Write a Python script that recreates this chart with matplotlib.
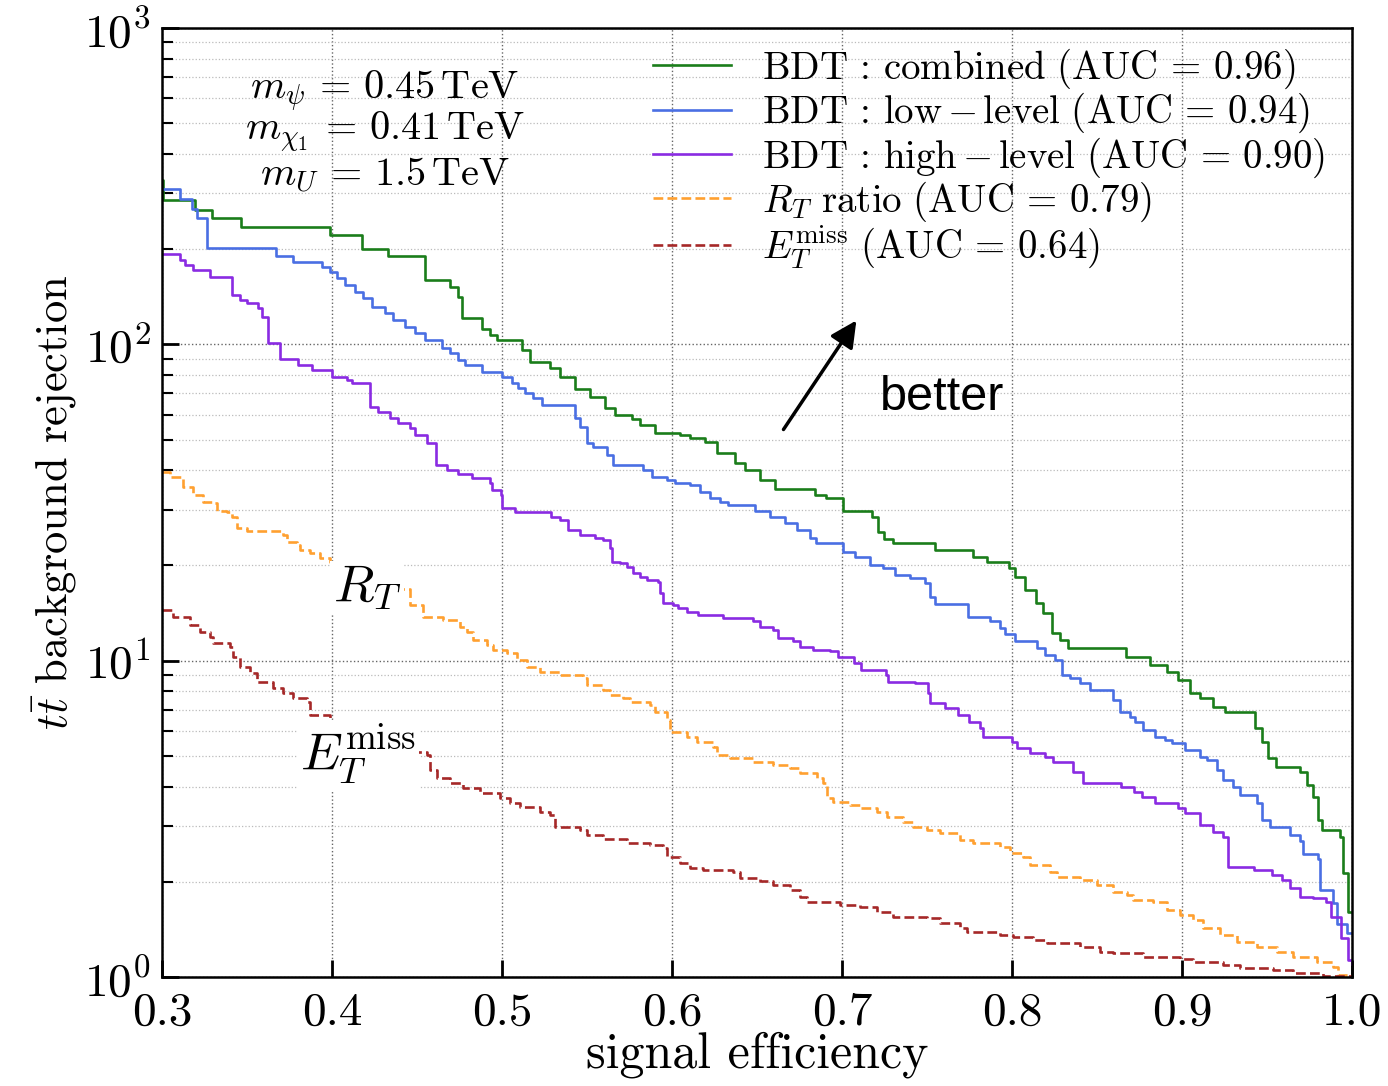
import numpy as np
import matplotlib
matplotlib.use('Agg')
import matplotlib.pyplot as plt

# ROC-style curves (signal efficiency, background rejection)
eff_comb = [0.300, 0.3005, 0.3194, 0.3294, 0.3465, 0.3988, 0.4176, 0.4329, 0.4547, 0.4694,
            0.4741, 0.4765, 0.4882, 0.4929, 0.4971, 0.5118, 0.5165, 0.5282, 0.5341, 0.5429,
            0.5518, 0.5606, 0.5665, 0.5765, 0.5812, 0.5900, 0.6047, 0.6106, 0.6194, 0.6265,
            0.6371, 0.6429, 0.6518, 0.6606, 0.6841, 0.6906, 0.7006, 0.7176, 0.7212, 0.7247,
            0.7300, 0.7547, 0.7771, 0.7853, 0.7982, 0.8018, 0.8076, 0.8141, 0.8182, 0.8235,
            0.8282, 0.8329, 0.8671, 0.8812, 0.8912, 0.8976, 0.9047, 0.9106, 0.9182, 0.9253,
            0.9429, 0.9471, 0.9506, 0.9553, 0.9694, 0.9735, 0.9771, 0.9800, 0.9824, 0.9929,
            0.9947, 0.9976, 1.0]
rej_comb = [331, 286, 266, 251, 235, 222, 200, 190, 160, 152,
            141, 121, 112, 107, 103, 96, 88, 84, 79, 72,
            68, 63, 60, 58, 55.6, 52.4, 51.5, 50.5, 49.0, 45.2,
            42.3, 40.0, 37.2, 34.8, 33.5, 32.6, 29.8, 28.5, 25.5, 24.2,
            23.6, 22.4, 21.3, 20.5, 19.6, 18.4, 16.7, 15.2, 14.1, 12.2,
            11.6, 10.96, 10.3, 9.72, 9.23, 8.70, 7.92, 7.64, 7.14, 6.88,
            6.13, 5.53, 4.93, 4.60, 4.45, 4.05, 3.71, 3.14, 2.92, 2.77,
            2.13, 1.60, 1.60]

eff_low = [0.300, 0.3106, 0.3176, 0.3206, 0.3265, 0.3671, 0.3771, 0.3941, 0.3988, 0.4029,
           0.4076, 0.4135, 0.4182, 0.4235, 0.4312, 0.4359, 0.4429, 0.4488, 0.4547, 0.4647,
           0.4694, 0.4741, 0.4782, 0.4882, 0.5000, 0.5059, 0.5094, 0.5135, 0.5182, 0.5235,
           0.5429, 0.5459, 0.5500, 0.5535, 0.5618, 0.5653, 0.5829, 0.5882, 0.5971, 0.6018,
           0.6106, 0.6165, 0.6224, 0.6282, 0.6329, 0.6488, 0.6576, 0.6665, 0.6735, 0.6812,
           0.6847, 0.7006, 0.7076, 0.7165, 0.7241, 0.7312, 0.7400, 0.7488, 0.7518, 0.7547,
           0.7741, 0.7871, 0.7929, 0.7959, 0.8018, 0.8147, 0.8194, 0.8253, 0.8294, 0.8341,
           0.8400, 0.8459, 0.8594, 0.8635, 0.8694, 0.8724, 0.8771, 0.8841, 0.8900, 0.8941,
           0.9018, 0.9106, 0.9147, 0.9206, 0.9241, 0.9300, 0.9341, 0.9441, 0.9471, 0.9518,
           0.9635, 0.9694, 0.9712, 0.9800, 0.9812, 0.9888, 0.9912, 0.9971, 1.0]
rej_low = [310, 288, 268, 251, 202, 190, 182, 176, 169, 162,
           154, 146.5, 140, 131, 126, 119, 113.5, 108.7, 103.3, 97.4,
           93.9, 89.3, 86.1, 81.8, 78.9, 75.5, 72.8, 70.2, 67.7, 64.3,
           58.5, 54.8, 48.8, 47.4, 44.7, 41.6, 40.0, 38.1, 37.2, 36.5,
           35.9, 34.1, 32.6, 31.8, 31.1, 29.8, 28.5, 27.2, 25.9, 24.4,
           23.6, 22.1, 21.3, 20.1, 19.6, 18.7, 18.3, 17.6, 15.9, 15.1,
           13.7, 13.3, 12.7, 12.1, 11.5, 10.96, 10.4, 10.05, 9.0, 8.82,
           8.5, 8.08, 7.51, 6.88, 6.64, 6.40, 6.04, 5.74, 5.61, 5.50,
           5.22, 4.96, 4.85, 4.51, 4.20, 3.99, 3.76, 3.55, 3.14, 2.98,
           2.81, 2.70, 2.45, 2.36, 1.88, 1.71, 1.47, 1.38, 1.38]

eff_high = [0.300, 0.3106, 0.3135, 0.3182, 0.3282, 0.3412, 0.3459, 0.3500, 0.3565, 0.3588,
            0.3624, 0.3694, 0.3800, 0.3882, 0.4000, 0.4088, 0.4118, 0.4224, 0.4271, 0.4341,
            0.4388, 0.4459, 0.4488, 0.4560, 0.4612, 0.4676, 0.4741, 0.4824, 0.4929, 0.4941,
            0.4994, 0.5000, 0.5076, 0.5288, 0.5341, 0.5388, 0.5459, 0.5547, 0.5594, 0.5635,
            0.5647, 0.5694, 0.5735, 0.5771, 0.5812, 0.5853, 0.5918, 0.5929, 0.5947, 0.6006,
            0.6035, 0.6088, 0.6153, 0.6300, 0.6476, 0.6518, 0.6594, 0.6624, 0.6712, 0.6753,
            0.6829, 0.6929, 0.6976, 0.7071, 0.7112, 0.7259, 0.7271, 0.7429, 0.7506, 0.7518,
            0.7606, 0.7682, 0.7747, 0.7812, 0.7829, 0.8000, 0.8029, 0.8106, 0.8194, 0.8241,
            0.8359, 0.8418, 0.8641, 0.8718, 0.8765, 0.8841, 0.8976, 0.9018, 0.9106, 0.9182,
            0.9241, 0.9271, 0.9424, 0.9529, 0.9588, 0.9635, 0.9694, 0.9771, 0.9847, 0.9876,
            0.9935, 0.9976, 1.0]
rej_high = [193, 185, 178, 172, 163, 143, 138, 135, 130, 122,
            101, 90, 86.1, 83, 79, 77.2, 75.5, 63.4, 61.1, 58.5,
            56.4, 54.4, 51.7, 48.8, 41.6, 40.0, 38.9, 37.8, 36.5, 34.7,
            33.4, 30.3, 29.5, 28.5, 27.9, 25.9, 25.0, 24.4, 24.1, 22.7,
            20.5, 20.4, 19.8, 18.9, 18.4, 18.0, 17.7, 16.4, 15.2, 15.0,
            14.7, 14.3, 13.9, 13.6, 13.3, 12.8, 12.5, 11.8, 11.5, 11.05,
            10.8, 10.7, 10.3, 9.84, 9.35, 9.0, 8.57, 8.5, 7.92, 7.35,
            7.08, 6.73, 6.40, 6.13, 5.74, 5.53, 5.30, 5.10, 4.96, 4.78,
            4.45, 4.11, 3.99, 3.85, 3.71, 3.55, 3.42, 3.30, 3.02, 2.87,
            2.77, 2.23, 2.18, 2.10, 2.03, 1.91, 1.79, 1.78, 1.73, 1.55,
            1.33, 1.13, 1.10]

eff_rt = [0.300, 0.3047, 0.3124, 0.3182, 0.3241, 0.3300, 0.3324, 0.3382, 0.3412, 0.3441,
          0.3500, 0.3712, 0.3735, 0.3794, 0.3812, 0.3871, 0.3929, 0.3988, 0.4006, 0.4120,
          0.4230, 0.4340, 0.4459, 0.4535, 0.4653, 0.4753, 0.4794, 0.4829, 0.4912, 0.4947,
          0.5029, 0.5088, 0.5147, 0.5224, 0.5341, 0.5476, 0.5500, 0.5594, 0.5635, 0.5712,
          0.5753, 0.5871, 0.5900, 0.5971, 0.5988, 0.6088, 0.6147, 0.6241, 0.6265, 0.6341,
          0.6476, 0.6594, 0.6694, 0.6753, 0.6853, 0.6888, 0.6912, 0.6947, 0.7047, 0.7106,
          0.7206, 0.7265, 0.7359, 0.7418, 0.7500, 0.7576, 0.7694, 0.7771, 0.7929, 0.7988,
          0.8065, 0.8106, 0.8224, 0.8265, 0.8400, 0.8500, 0.8594, 0.8676, 0.8712, 0.8829,
          0.8912, 0.8988, 0.9065, 0.9124, 0.9224, 0.9324, 0.9441, 0.9559, 0.9653, 0.9794,
          0.9888, 0.9918, 1.0]
rej_rt = [39.5, 38.1, 35.4, 33.4, 31.8, 31.5, 29.8, 29.5, 28.5, 26.3,
          25.7, 25.0, 23.7, 23.2, 22.4, 21.9, 21.1, 20.5, 19.6, 18.5,
          17.6, 16.8, 15.0, 13.7, 13.45, 12.8, 12.3, 11.6, 11.2, 10.8,
          10.6, 10.05, 9.55, 9.23, 9.0, 8.82, 8.38, 8.08, 7.79, 7.64,
          7.40, 7.24, 6.88, 6.49, 5.95, 5.74, 5.53, 5.34, 5.03, 4.92,
          4.78, 4.68, 4.58, 4.42, 4.26, 4.11, 3.68, 3.57, 3.50, 3.42,
          3.32, 3.21, 3.09, 2.98, 2.92, 2.85, 2.71, 2.65, 2.58, 2.47,
          2.40, 2.26, 2.15, 2.07, 2.03, 1.95, 1.86, 1.82, 1.75, 1.73,
          1.63, 1.57, 1.51, 1.43, 1.36, 1.29, 1.24, 1.20, 1.16, 1.115,
          1.075, 1.015, 1.015]

eff_met = [0.300, 0.3065, 0.3165, 0.3224, 0.3282, 0.3300, 0.3400, 0.3418, 0.3459, 0.3518,
           0.3559, 0.3653, 0.3712, 0.3771, 0.3853, 0.3871, 0.3988, 0.4100, 0.4200, 0.4350,
           0.4459, 0.4559, 0.4576, 0.4618, 0.4694, 0.4771, 0.4871, 0.4988, 0.5047, 0.5106,
           0.5224, 0.5282, 0.5312, 0.5459, 0.5500, 0.5594, 0.5735, 0.5871, 0.5947, 0.5971,
           0.6047, 0.6106, 0.6182, 0.6359, 0.6400, 0.6518, 0.6594, 0.6694, 0.6753, 0.6794,
           0.6988, 0.7106, 0.7206, 0.7300, 0.7500, 0.7576, 0.7694, 0.7735, 0.7929, 0.8006,
           0.8124, 0.8206, 0.8400, 0.8518, 0.8594, 0.8771, 0.8988, 0.9065, 0.9241, 0.9341,
           0.9535, 0.9653, 0.9829, 1.0]
rej_met = [14.5, 13.7, 12.97, 12.3, 11.9, 11.4, 11.05, 10.3, 9.55, 9.14,
           8.57, 8.20, 7.90, 7.62, 7.40, 6.73, 6.40, 6.10, 5.80, 5.40,
           5.14, 5.03, 4.51, 4.26, 4.11, 3.96, 3.82, 3.68, 3.55, 3.45,
           3.32, 3.25, 2.98, 2.92, 2.81, 2.73, 2.65, 2.61, 2.56, 2.40,
           2.29, 2.21, 2.18, 2.15, 2.06, 2.01, 1.95, 1.88, 1.79, 1.73,
           1.69, 1.66, 1.61, 1.55, 1.54, 1.48, 1.43, 1.39, 1.36, 1.34,
           1.31, 1.28, 1.24, 1.20, 1.19, 1.16, 1.14, 1.115, 1.09, 1.07,
           1.05, 1.03, 1.007, 1.0]

labels = [r'$\rm BDT\,:\,combined\ (AUC\,=\,0.96)$',
          r'$\rm BDT\,:\,low\,{-}\,level\ (AUC\,=\,0.94)$',
          r'$\rm BDT\,:\,high\,{-}\,level\ (AUC\,=\,0.90)$',
          r'$R_T\ \rm ratio\ (AUC\,=\,0.79)$',
          r'$E_T^{\rm miss}\ \rm (AUC\,=\,0.64)$']

plt.rcParams['font.family'] = 'serif'
plt.rcParams['font.serif'] = ['cmr10', 'DejaVu Serif']
plt.rcParams['mathtext.fontset'] = 'cm'
plt.rcParams['axes.formatter.use_mathtext'] = True

fig = plt.figure(figsize=(13.88, 10.86), dpi=100)
ax = fig.add_axes([0.1167, 0.1004, 0.8573, 0.8738])

lw = 1.9
ax.step(eff_comb, rej_comb, where='post', color='#1a7d1a', lw=lw, label=labels[0])
ax.step(eff_low, rej_low, where='post', color='#4a6fe3', lw=lw, label=labels[1])
ax.step(eff_high, rej_high, where='post', color='#8a2be2', lw=lw, label=labels[2])
ax.step(eff_rt, rej_rt, where='post', color='#ffa030', lw=lw, ls='--', label=labels[3])
ax.step(eff_met, rej_met, where='post', color='#a52828', lw=lw, ls='--', label=labels[4])

ax.set_yscale('log')
ax.set_xlim(0.3, 1.0)
ax.set_ylim(1, 1000)
ax.set_xticks(np.arange(0.3, 1.01, 0.1))
ax.set_xticklabels(['0.3', '0.4', '0.5', '0.6', '0.7', '0.8', '0.9', '1.0'])

ax.grid(True, which='major', ls=':', color='#666666', lw=1.0)
ax.grid(True, which='minor', axis='y', ls=':', color='#bbbbbb', lw=0.9)

ax.tick_params(axis='both', which='major', direction='in', length=12, width=2,
               labelsize=34, pad=8)
ax.tick_params(axis='x', which='major', pad=11)
ax.tick_params(axis='y', which='minor', direction='in', length=8, width=1.5)
ax.tick_params(axis='x', which='minor', bottom=False)
for s in ax.spines.values():
    s.set_linewidth(1.8)
    s.set_color('black')

ax.set_xlabel('signal efficiency', fontsize=36, labelpad=-2)
ax.set_ylabel(r'$t\bar{t}$ background rejection', fontsize=32, labelpad=4)

leg = ax.legend(loc='upper right', bbox_to_anchor=(1.007, 1.017), frameon=False,
                fontsize=28, handlelength=2.0, handletextpad=0.8, labelspacing=0.0)

# mass point text
ax.text(0.4312, 630, r'$m_\psi\,=\,0.45\,\rm TeV$', fontsize=29, ha='center', va='center')
ax.text(0.4312, 468, r'$m_{\chi_1}\,=\,0.41\,\rm TeV$', fontsize=29, ha='center', va='center')
ax.text(0.4312, 343, r'$m_U\,=\,1.5\,\rm TeV$', fontsize=29, ha='center', va='center')

# curve labels with white boxes
box = dict(facecolor='white', edgecolor='none', pad=2)
ax.text(0.4206, 17.0, r'$R_T$', fontsize=38, ha='center', va='center', bbox=box, zorder=5)
ax.text(0.4153, 5.03, r'$E_T^{\rm miss}$', fontsize=38, ha='center', va='center',
        bbox=box, zorder=5)

ax.annotate('', xy=(0.7094, 121), xytext=(0.6647, 52.9),
            arrowprops=dict(arrowstyle='-|>', color='black', lw=2.5, mutation_scale=40))
ax.text(0.7224, 67.7, 'better', fontsize=35, ha='left', va='center',
        family=['Liberation Sans', 'DejaVu Sans'])

fig.savefig('out.png', dpi=100)
